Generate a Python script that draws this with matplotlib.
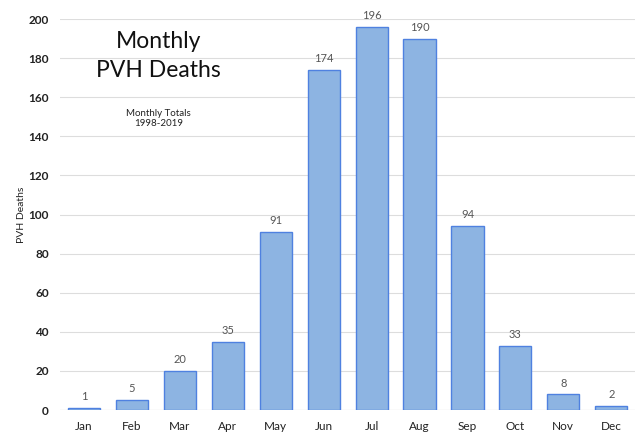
import matplotlib.pyplot as plt

# Monthly PVH deaths, 1998-2019 totals
months = ["Jan", "Feb", "Mar", "Apr", "May", "Jun", "Jul", "Aug", "Sep", "Oct", "Nov", "Dec"]
deaths = [1, 5, 20, 35, 91, 174, 196, 190, 94, 33, 8, 2]
yticks = [0, 20, 40, 60, 80, 100, 120, 140, 160, 180, 200]

plt.rcParams['font.family'] = ['Lato', 'DejaVu Sans']

fig = plt.figure(figsize=(6.42, 4.33), dpi=100)
ax = fig.add_axes([0.0935, 0.053, 0.896, 0.903])

x = range(len(months))
ax.bar(x, deaths, width=0.67, color='#8db4e2', edgecolor='#4f81e0', linewidth=1.0, zorder=3)

for i, v in zip(x, deaths):
    ax.text(i, v + 3, str(v), ha='center', va='bottom', fontsize=8, color='#555555')

ax.set_xlim(-0.5, len(months) - 0.5)
ax.set_ylim(0, 200)
ax.set_yticks(yticks)
ax.set_xticks(list(x))
ax.set_xticklabels(months, fontsize=8.5, color='#222222')
ax.set_yticklabels([str(t) for t in yticks], fontsize=8.5, fontweight='bold', color='#222222')
ax.tick_params(length=0, pad=8)
ax.yaxis.grid(True, color='#dddddd', linewidth=0.8, zorder=0)
for s in ax.spines.values():
    s.set_visible(False)
ax.axhline(0, color='#cccccc', linewidth=0.8, zorder=2)

ax.set_ylabel("PVH Deaths", fontsize=7.5, color='#222222', labelpad=2)

ax.text(1.55, 181, "Monthly\nPVH Deaths", ha='center', va='center', fontsize=16.5, color='#111111', linespacing=1.45)
ax.text(1.55, 149, "Monthly Totals\n1998-2019", ha='center', va='center', fontsize=7, color='#222222')

fig.savefig("out.png", dpi=100)
